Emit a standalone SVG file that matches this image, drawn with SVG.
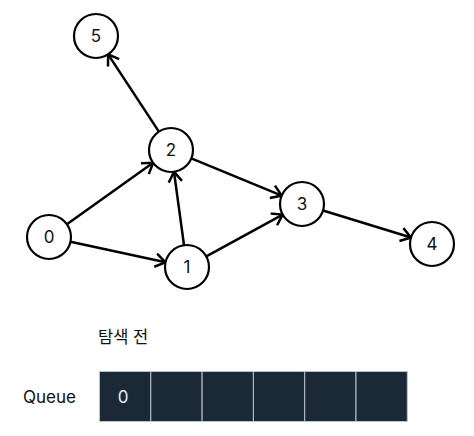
<svg xmlns="http://www.w3.org/2000/svg" width="474" height="436" viewBox="0 0 474 436">
<style>
.node circle{fill:#fff;stroke:#000;stroke-width:2.2}
.node text{font-family:Inter,"Noto Sans",sans-serif;font-size:17px;fill:#111;text-anchor:middle;dominant-baseline:central}
.edge{stroke:#000;stroke-width:2.5;fill:none;marker-end:url(#arr)}
.cell{fill:#1b2836;stroke:#b9c3cc;stroke-width:1}
.lbl{font-family:Inter,"Noto Sans","Noto Sans CJK KR",sans-serif;fill:#111}
</style>
<defs>
<marker id="arr" markerUnits="userSpaceOnUse" markerWidth="20" markerHeight="20" viewBox="-12 -10 14 20" refX="0" refY="0" orient="auto">
<path d="M-9,-6 L0,0 L-9,6" fill="none" stroke="#000" stroke-width="2.5" stroke-linecap="square"/>
</marker>
</defs>
<rect width="474" height="436" fill="#fff"/>
<g id="connectors">
<line class="edge" x1="158.9" y1="131.6" x2="108.1" y2="54.4"/>
<line class="edge" x1="66.9" y1="224.2" x2="153.1" y2="162.8"/>
<line class="edge" x1="70.5" y1="241.7" x2="165.5" y2="262.3"/>
<line class="edge" x1="184" y1="245.2" x2="174" y2="171.8"/>
<line class="edge" x1="191.3" y1="158.4" x2="281.7" y2="195.6"/>
<line class="edge" x1="206.3" y1="256.4" x2="282.7" y2="214.6"/>
<line class="edge" x1="323" y1="210.5" x2="411" y2="237.5"/>
</g>
<g id="node0" class="node"><circle cx="49" cy="237" r="22"/><text x="49" y="237">0</text></g>
<g id="node1" class="node"><circle cx="187" cy="267" r="22"/><text x="187" y="267">1</text></g>
<g id="node2" class="node"><circle cx="171" cy="150" r="22"/><text x="171" y="150">2</text></g>
<g id="node3" class="node"><circle cx="302" cy="204" r="22"/><text x="302" y="204">3</text></g>
<g id="node4" class="node"><circle cx="432" cy="244" r="22"/><text x="432" y="244">4</text></g>
<g id="node5" class="node"><circle cx="96" cy="36" r="22"/><text x="96" y="36">5</text></g>
<g id="title"><text class="lbl" x="98" y="343" font-size="16.5">탐색 전</text></g>
<g id="queue">
<text class="lbl" x="23" y="403" font-size="17">Queue</text>
<rect class="cell" x="99.5" y="371.5" width="51.3" height="50"/>
<rect class="cell" x="150.8" y="371.5" width="51.3" height="50"/>
<rect class="cell" x="202.1" y="371.5" width="51.3" height="50"/>
<rect class="cell" x="253.4" y="371.5" width="51.3" height="50"/>
<rect class="cell" x="304.7" y="371.5" width="51.3" height="50"/>
<rect class="cell" x="356" y="371.5" width="51.3" height="50"/>
<text x="123" y="397" font-family="Inter,'Noto Sans',sans-serif" font-size="17" fill="#e8edf2" text-anchor="middle" dominant-baseline="central">0</text>
</g>
</svg>
